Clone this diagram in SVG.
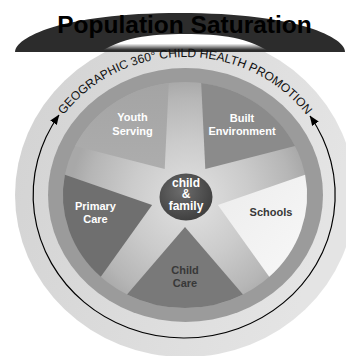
<svg xmlns="http://www.w3.org/2000/svg" width="346" height="356" viewBox="0 0 346 356">
  <defs>
    <linearGradient id="gDisc" x1="0" y1="0" x2="1" y2="0.3">
      <stop offset="0" stop-color="#d2d2d2"/>
      <stop offset="1" stop-color="#e4e4e4"/>
    </linearGradient>
    <radialGradient id="gSpoke" cx="190" cy="200" r="120" gradientUnits="userSpaceOnUse">
      <stop offset="0" stop-color="#e2e2e2"/>
      <stop offset="0.5" stop-color="#cbcbcb"/>
      <stop offset="0.85" stop-color="#b6b6b6"/>
      <stop offset="1" stop-color="#a8a8a8"/>
    </radialGradient>
    <radialGradient id="gCenter" cx="0.42" cy="0.38" r="0.65">
      <stop offset="0" stop-color="#6c6c6c"/>
      <stop offset="1" stop-color="#3e3e3e"/>
    </radialGradient>
    <linearGradient id="gSchools" x1="0" y1="0" x2="1" y2="1">
      <stop offset="0" stop-color="#ececec"/>
      <stop offset="1" stop-color="#f8f8f8"/>
    </linearGradient>
    <linearGradient id="gYouth" x1="0" y1="0" x2="0" y2="1">
      <stop offset="0" stop-color="#a4a4a4"/>
      <stop offset="1" stop-color="#adadad"/>
    </linearGradient>
    <linearGradient id="gHump" x1="0" y1="34" x2="0" y2="50" gradientUnits="userSpaceOnUse">
      <stop offset="0" stop-color="#ffffff"/>
      <stop offset="0.6" stop-color="#ffffff"/>
      <stop offset="1" stop-color="#ffffff" stop-opacity="0"/>
    </linearGradient>
    <marker id="ah" viewBox="0 0 10 10" refX="9.5" refY="5" markerWidth="10" markerHeight="10" markerUnits="userSpaceOnUse" orient="auto-start-reverse">
      <path d="M0,1 L10,5 L0,9 Z" fill="#000"/>
    </marker>
    <path id="ringPath" d="M36,195 A149 138 0 0 1 334,195"/>
  </defs>
  <style>
    .lbl { font-family: "Liberation Sans", Arial, sans-serif; font-weight: bold; font-size: 11px; text-anchor: middle; }
    .cf { font-size: 12px; }
    .lw { fill: #ffffff; }
    .ld { fill: #383838; }
  </style>

  <!-- background disc -->
  <ellipse id="outerDisc" cx="185" cy="195" rx="170" ry="162" fill="url(#gDisc)"/>

  <!-- title band -->
  <g id="title">
    <path d="M15,52 C15,38 60,13 180,13 C300,13 345,38 345,52 Z" fill="#2c2c2c"/>
    <path d="M96,55 C120,37 150,34 185,34 C220,34 250,37 274,55 Z" fill="url(#gHump)"/>
    <text x="184.5" y="33" font-family="Liberation Sans, Arial, sans-serif" font-weight="bold" font-size="24.5" text-anchor="middle" fill="#000">Population Saturation</text>
  </g>

  <!-- ring text -->
  <g id="ringText">
    <text font-family="Liberation Sans, Arial, sans-serif" font-size="12.1" fill="#111">
      <textPath href="#ringPath" startOffset="50%" text-anchor="middle">GEOGRAPHIC 360° CHILD HEALTH PROMOTION</textPath>
    </text>
  </g>

  <!-- wheel -->
  <g id="wheel">
    <ellipse cx="185.5" cy="195" rx="137.5" ry="127" fill="#9b9b9b"/>
    <ellipse cx="185" cy="195" rx="122" ry="113" fill="url(#gSpoke)"/>
  </g>

  <g id="youthServing">
    <path d="M164.7,169.1 L75,146.1 A122 113 0 0 1 168.8,83 Z" fill="url(#gYouth)"/>
    <text class="lbl lw" x="132.5" y="121">Youth</text>
    <text class="lbl lw" x="132.5" y="134.5">Serving</text>
  </g>

  <g id="builtEnvironment">
    <path d="M205.3,169.1 L201.2,83 A122 113 0 0 1 295,146.1 Z" fill="#8b8b8b"/>
    <text class="lbl lw" x="242" y="121.5">Built</text>
    <text class="lbl lw" x="242" y="135">Environment</text>
  </g>

  <g id="schools">
    <path d="M217.9,204.9 L305.1,174.7 A122 113 0 0 1 269.2,276.8 Z" fill="url(#gSchools)"/>
    <text class="lbl ld" x="271" y="216">Schools</text>
  </g>

  <g id="childCare">
    <path d="M185,227 L243,294.4 A122 113 0 0 1 127,294.4 Z" fill="#797979"/>
    <text class="lbl ld" x="185" y="274">Child</text>
    <text class="lbl ld" x="185" y="287">Care</text>
  </g>

  <g id="primaryCare">
    <path d="M152.1,204.9 L100.8,276.8 A122 113 0 0 1 64.9,174.7 Z" fill="#6f6f6f"/>
    <text class="lbl lw" x="95.5" y="210">Primary</text>
    <text class="lbl lw" x="95.5" y="223">Care</text>
  </g>

  <g id="childFamily">
    <ellipse cx="186" cy="197" rx="26.5" ry="23.5" fill="url(#gCenter)"/>
    <text class="lbl lw cf" x="186" y="186.5">child</text>
    <text class="lbl lw cf" x="186" y="198.3">&amp;</text>
    <text class="lbl lw cf" x="186" y="209.5">family</text>
  </g>

  <!-- connectors -->
  <g id="connectors">
    <path d="M59,115 A151 143 0 1 0 310,116" fill="none" stroke="#000" stroke-width="1.2" marker-start="url(#ah)" marker-end="url(#ah)"/>
  </g>
</svg>
